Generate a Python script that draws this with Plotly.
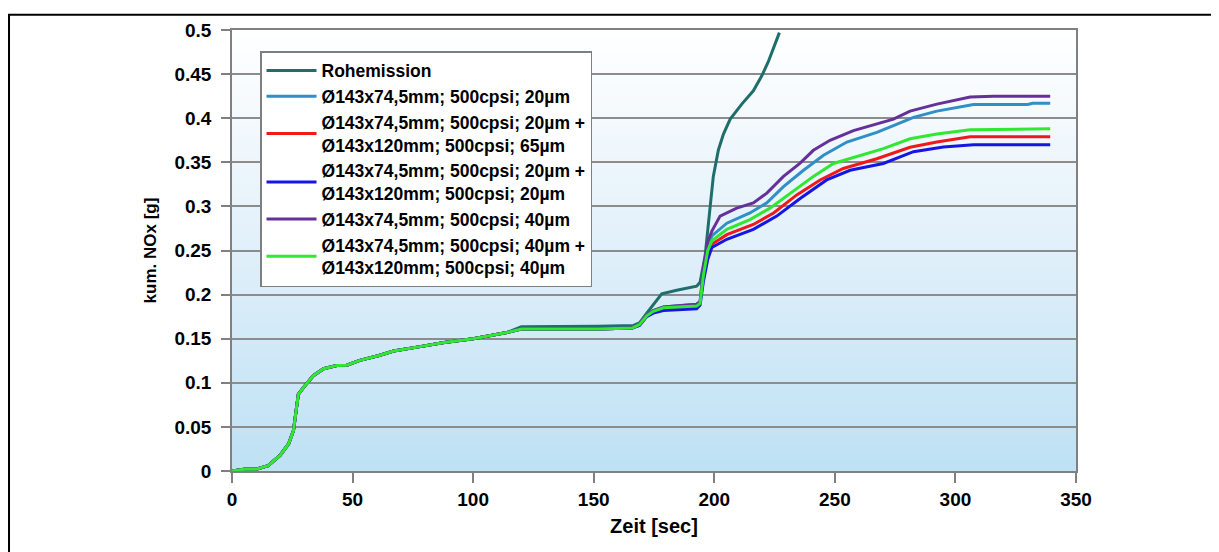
import base64
import struct
import zlib

import plotly.graph_objects as go

# ---------------- data ----------------
# common start of all curves (time [s], cumulative NOx [g])
base_t = [0, 5, 10, 15, 20, 23.5, 25.5, 27.5, 29.6, 33.7, 38, 43.4, 47.6, 53, 61, 67, 78, 88, 100, 114]
base_y = [0, 0.002, 0.002, 0.006, 0.018, 0.031, 0.046, 0.087, 0.0945, 0.108, 0.116, 0.1196, 0.120,
          0.1255, 0.131, 0.136, 0.141, 0.1457, 0.150, 0.157]

# plateau of the filtered curves
filt_mid_t = [120, 136, 152, 166]
filt_mid_y = [0.161, 0.161, 0.161, 0.162]

raw_t = [120, 136, 152, 166.5, 169, 172, 174.7, 178.2, 184.4, 192.7, 194.1, 194.8, 196.2, 198.3,
         199.6, 201.7, 203.8, 206.6, 211.4, 216.2, 219.7, 222.4, 225.2, 227]
raw_y = [0.1635, 0.1637, 0.164, 0.165, 0.168, 0.179, 0.188, 0.201, 0.205, 0.2096, 0.214, 0.225,
         0.244, 0.300, 0.334, 0.364, 0.382, 0.399, 0.416, 0.431, 0.448, 0.464, 0.483, 0.497]

cyan_t = [169, 172, 174.7, 178.9, 192.7, 194.1, 195.5, 197.3, 199, 205.2, 214.8, 221.8, 228.7, 237,
          245.3, 255, 267.4, 274.3, 282.6, 292.3, 307.5, 330, 332, 339.3]
cyan_y = [0.166, 0.177, 0.182, 0.186, 0.189, 0.192, 0.225, 0.255, 0.2665, 0.281, 0.2926, 0.304,
          0.3225, 0.341, 0.358, 0.373, 0.384, 0.3916, 0.401, 0.408, 0.4155, 0.4155, 0.417, 0.417]

red_t = [169, 172, 174.7, 178.9, 192.7, 194.1, 195.5, 197.3, 199, 205.2, 216.2, 224.6, 234.2, 243.9,
         253.5, 267.4, 281.2, 292.3, 306.1, 339.3]
red_y = [0.166, 0.176, 0.180, 0.184, 0.186, 0.190, 0.22, 0.245, 0.257, 0.268, 0.2795, 0.2926, 0.313,
         0.330, 0.343, 0.354, 0.367, 0.373, 0.379, 0.379]

blue_t = [169, 172, 174.7, 178.9, 192.7, 194.1, 195.5, 197.3, 199, 205.2, 216.2, 225.9, 235.6, 246.6,
          256.3, 270.1, 282.6, 295, 307.5, 339.3]
blue_y = [0.165, 0.175, 0.179, 0.182, 0.184, 0.188, 0.215, 0.240, 0.2534, 0.2627, 0.274, 0.289, 0.309,
          0.330, 0.341, 0.3487, 0.362, 0.3674, 0.370, 0.370]

purple_t = [169, 172, 174.7, 178.9, 192.7, 194.1, 195.5, 197.3, 199, 202.4, 209.3, 216.2, 221.8, 228.7,
            235.6, 241.1, 248, 257.7, 267.4, 274.3, 281.2, 292.3, 306.1, 315.8, 339.3]
purple_y = [0.166, 0.177, 0.182, 0.186, 0.189, 0.192, 0.23, 0.26, 0.272, 0.289, 0.298, 0.304, 0.315,
            0.334, 0.349, 0.3636, 0.375, 0.386, 0.3935, 0.399, 0.408, 0.416, 0.424, 0.425, 0.425]

green_t = [169, 172, 174.7, 178.9, 192.7, 194.1, 195.5, 197.3, 199, 205.2, 214.8, 223.1, 232.8, 241.1,
           249.4, 260.5, 270.1, 281.2, 292.3, 306.1, 339.3]
green_y = [0.166, 0.176, 0.181, 0.185, 0.187, 0.190, 0.222, 0.25, 0.261, 0.274, 0.285, 0.298, 0.317,
           0.334, 0.3487, 0.358, 0.3655, 0.3767, 0.382, 0.3868, 0.388]

names = [
    "Rohemission",
    "Ø143x74,5mm; 500cpsi; 20µm",
    "Ø143x74,5mm; 500cpsi; 20µm +<br>Ø143x120mm; 500cpsi; 65µm",
    "Ø143x74,5mm; 500cpsi; 20µm +<br>Ø143x120mm; 500cpsi; 20µm",
    "Ø143x74,5mm; 500cpsi; 40µm",
    "Ø143x74,5mm; 500cpsi; 40µm +<br>Ø143x120mm; 500cpsi; 40µm",
]
colors = ["#1f6e6c", "#2f8fc6", "#f01818", "#1515e6", "#66309a", "#30e830"]

x_ticks = [0, 50, 100, 150, 200, 250, 300, 350]

# ---------------- figure ----------------
series = [
    (base_t + raw_t, base_y + raw_y),
    (base_t + filt_mid_t + cyan_t, base_y + filt_mid_y + cyan_y),
    (base_t + filt_mid_t + red_t, base_y + filt_mid_y + red_y),
    (base_t + filt_mid_t + blue_t, base_y + filt_mid_y + blue_y),
    (base_t + filt_mid_t + purple_t, base_y + filt_mid_y + purple_y),
    (base_t + filt_mid_t + green_t, base_y + filt_mid_y + green_y),
]

fig = go.Figure()
for i, ((t, y), name, col) in enumerate(zip(series, names, colors)):
    fig.add_trace(go.Scatter(x=t, y=y, mode="lines", name=name, legendgroup=f"g{i}",
                             line=dict(color=col, width=3)))


# vertical gradient background (white at top -> light blue at bottom)
def _png(rows, w=2):
    raw = b"".join(b"\x00" + bytes(c) * w for c in rows)

    def chunk(tag, data):
        return struct.pack(">I", len(data)) + tag + data + struct.pack(">I", zlib.crc32(tag + data) & 0xffffffff)

    return (b"\x89PNG\r\n\x1a\n" + chunk(b"IHDR", struct.pack(">IIBBBBB", w, len(rows), 8, 2, 0, 0, 0))
            + chunk(b"IDAT", zlib.compress(raw)) + chunk(b"IEND", b""))


stops = [(0.0, (255, 255, 255)), (0.3, (238, 246, 252)), (0.65, (214, 235, 248)), (1.0, (190, 225, 244))]
rows = []
n = 200
for k in range(n):
    f = k / (n - 1)
    for (a, ca), (b, cb) in zip(stops[:-1], stops[1:]):
        if a <= f <= b:
            u = (f - a) / (b - a)
            rows.append(tuple(int(round(ca[j] + (cb[j] - ca[j]) * u)) for j in range(3)))
            break
uri = "data:image/png;base64," + base64.b64encode(_png(rows)).decode()

fig.add_layout_image(dict(source=uri, xref="x", yref="y", x=0, y=0.5, sizex=350, sizey=0.5,
                          sizing="stretch", xanchor="left", yanchor="top", layer="below"))

# outer black frame
fig.add_shape(type="rect", xref="paper", yref="paper", x0=-0.2642, x1=1.2, y0=-0.25, y1=1.0348,
              line=dict(color="black", width=2), fillcolor="rgba(0,0,0,0)", layer="above")

# page body has an 8px margin -> figure is placed at (8, 8)
fig.update_layout(
    width=1211, height=544,
    margin=dict(l=224, r=143, t=17, b=81),
    paper_bgcolor="white", plot_bgcolor="white",
    font=dict(family="Liberation Sans, Arial, sans-serif", color="black"),
    legend=dict(x=0.0332, y=0.952, xanchor="left", yanchor="top", bgcolor="white",
                bordercolor="#7f7f7f", borderwidth=1.5, font=dict(size=17.5, weight="bold"),
                tracegroupgap=0, itemwidth=50),
    showlegend=True,
)
fig.update_xaxes(range=[0, 350], tickvals=x_ticks, showgrid=False, zeroline=False,
                 showline=True, linecolor="#808080", linewidth=1.5, mirror=True,
                 ticks="outside", ticklen=10, tickcolor="#808080", tickwidth=1.5,
                 tickfont=dict(size=19, weight="bold"),
                 title=dict(text="Zeit [sec]", font=dict(size=20, weight="bold"), standoff=10))
fig.update_yaxes(range=[0, 0.5], dtick=0.05, tick0=0, showgrid=True, gridcolor="#8c8c8c", gridwidth=1.5,
                 zeroline=False, showline=True, linecolor="#808080", linewidth=1.5, mirror=True,
                 ticks="outside", ticklen=9, tickcolor="#808080", tickwidth=1.5,
                 ticklabelstandoff=6,
                 tickfont=dict(size=19, weight="bold"),
                 title=dict(text="kum. NOx [g]", font=dict(size=17, weight="bold"), standoff=14))

fig.write_html("out.html")
